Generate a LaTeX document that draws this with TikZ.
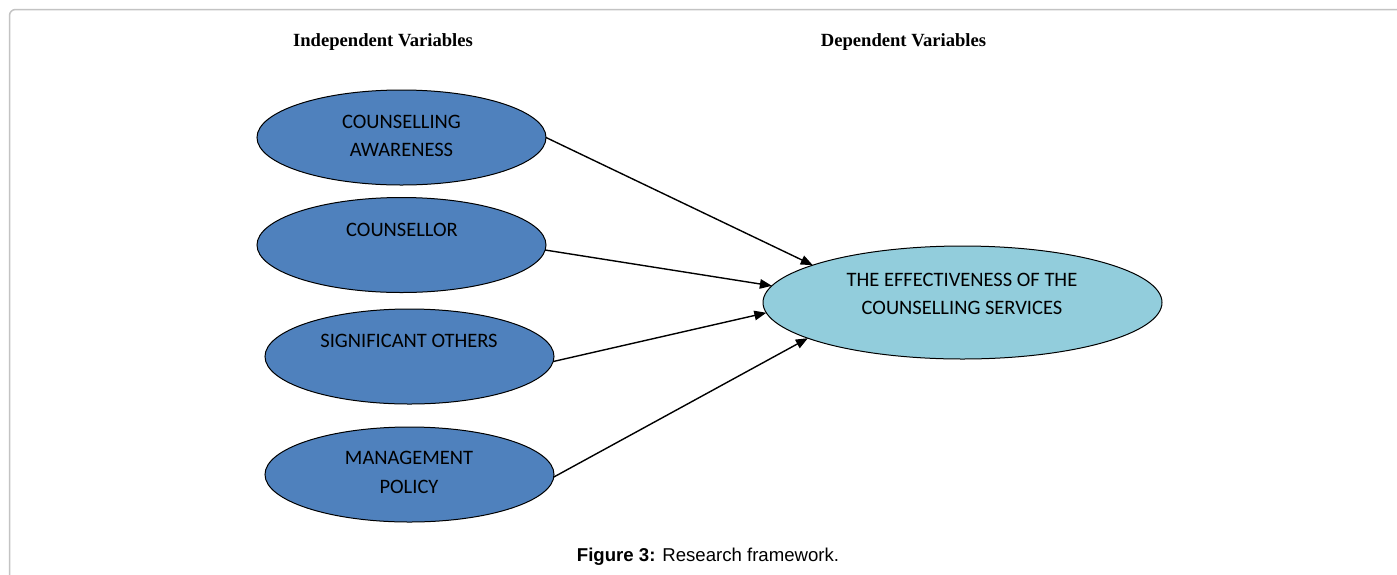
\documentclass[tikz,border=0pt]{standalone}
\usepackage{fontspec}
\setmainfont{Liberation Serif}
\newfontfamily\calibfont{Carlito}
\newfontfamily\arialfont{Liberation Sans}
\usetikzlibrary{shapes.geometric,arrows.meta}
\definecolor{ivblue}{HTML}{4F81BD}
\definecolor{dvaqua}{HTML}{92CDDC}
\definecolor{framegray}{RGB}{195,195,195}
\begin{document}
\begin{tikzpicture}[x=1pt,y=-1pt,
  ivnode/.style={ellipse, draw=black, line width=1pt, fill=ivblue,
    minimum width=289pt, minimum height=95pt, inner sep=0pt, outer sep=0pt},
  dvnode/.style={ellipse, draw=black, line width=1pt, fill=dvaqua,
    minimum width=399pt, minimum height=113pt, inner sep=0pt, outer sep=0pt},
  elabel/.style={font=\calibfont\fontsize{20.5}{28.5}\selectfont, align=center,
    inner sep=0pt, text=black},
  header/.style={font=\bfseries\fontsize{18.6}{22}\selectfont, anchor=base, inner sep=0pt},
  conn/.style={line width=1.4pt, -{Triangle[length=12pt,width=9.5pt]}}]
\useasboundingbox (0,0) rectangle (1397,574);
\draw[framegray, line width=1.5pt, rounded corners=6pt] (9.5,620) -- (9.5,9.5) -- (1440,9.5);

\node[header] (hind) at (383,46.5) {Independent Variables};
\node[header] (hdep) at (903.5,46.5) {Dependent Variables};

\node[ivnode] (e1) at (401.5,137.5) {};
\node[ivnode] (e2) at (401.5,245) {};
\node[ivnode] (e3) at (409.5,356.5) {};
\node[ivnode] (e4) at (409.5,474.5) {};
\node[dvnode] (dv) at (962.5,302.5) {};

\node[elabel] (t1) at (401.5,136) {COUNSELLING\\AWARENESS};
\node[elabel] (t2) at (402,230) {COUNSELLOR};
\node[elabel] (t3) at (409,341) {SIGNIFICANT OTHERS};
\node[elabel] (t4) at (409,472.5) {MANAGEMENT\\POLICY};
\node[elabel] (t5) at (962,294) {THE EFFECTIVENESS OF THE\\COUNSELLING SERVICES};

\draw[conn] (e1.0) -- (dv.166.8);
\draw[conn] (e2.-2) -- (dv.175.6);
\draw[conn] (e3.-2.6) -- (dv.183.8);
\draw[conn] (e4.-1) -- (dv.193.2);

\node[font=\arialfont\fontsize{18.6}{22}\selectfont, anchor=base, inner sep=0pt] (cap) at (708,561)
  {\textbf{Figure 3:} Research framework.};
\end{tikzpicture}
\end{document}
